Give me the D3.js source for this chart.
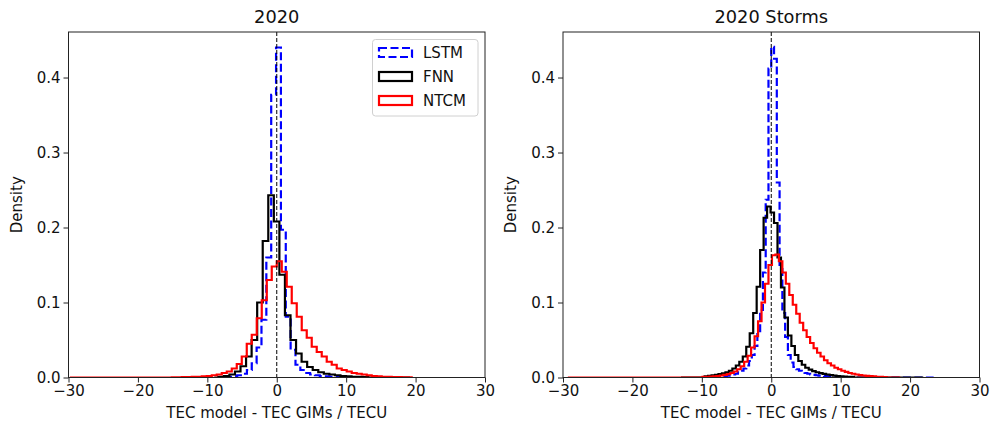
<!DOCTYPE html>
<html>
<head>
<meta charset="utf-8">
<script src="https://cdn.jsdelivr.net/npm/d3@7"></script>
<style>
  body { margin: 0; background: #fff; }
  svg { font-family: "DejaVu Sans", sans-serif; }
</style>
</head>
<body>
<div id="chart"></div>
<script>
// bin layout per series: [first edge, bin width], outline extent: [lo, hi]
// --- 2020 ---
const lstm2020Bins = [-7.1, 0.7]
const lstm2020Extent = [-7.5, 9.5]
const lstm2020 = [0.001, 0.0015, 0.003, 0.005, 0.01, 0.019, 0.04, 0.077, 0.16, 0.377,
    0.44, 0.197, 0.081, 0.037, 0.017, 0.01, 0.006, 0.004, 0.003, 0.002, 0.0015, 0.001, 0.0007, 0.0005]

const fnn2020Bins = [-8.42, 0.8]
const fnn2020Extent = [-9, 19.2]
const fnn2020 = [0.001, 0.002, 0.004, 0.008, 0.015, 0.028, 0.05, 0.1, 0.182, 0.243,
    0.208, 0.137, 0.083, 0.05, 0.032, 0.021, 0.014, 0.01, 0.007, 0.005, 0.004, 0.003,
    0.002, 0.0015, 0.001, 0.0008, 0.0005]

const ntcm2020Bins = [-15.12, 0.72]
const ntcm2020Extent = [-29.8, 19.6]
const ntcm2020 = [0.0002, 0.0003, 0.0004, 0.0005, 0.0008, 0.001, 0.0015, 0.002, 0.003, 0.004,
    0.006, 0.008, 0.012, 0.018, 0.028, 0.045, 0.057, 0.079, 0.103, 0.13, 0.148,
    0.155, 0.141, 0.121, 0.099, 0.081, 0.063, 0.053, 0.041, 0.034, 0.028, 0.021, 0.017,
    0.012, 0.01, 0.008, 0.006, 0.005, 0.004, 0.003, 0.002, 0.0015, 0.001, 0.0008, 0.0006,
    0.0004, 0.0003, 0.0002]

// --- 2020 Storms ---
const lstmStormBins = [-8.0, 0.4]
const lstmStormExtent = [-10, 23.4]
const lstmStorm = [0.001, 0.0012, 0.0015, 0.002, 0.0025, 0.003, 0.004, 0.005, 0.007, 0.009,
    0.012, 0.016, 0.022, 0.03, 0.042, 0.06, 0.09, 0.14, 0.237, 0.412,
    0.441, 0.425, 0.26, 0.15, 0.086, 0.054, 0.03, 0.02, 0.014, 0.011, 0.009, 0.007,
    0.006, 0.005, 0.004, 0.0035, 0.003, 0.0025, 0.002, 0.0018, 0.0015, 0.0012, 0.001, 0.0008]

const fnnStormBins = [-9.6, 0.5]
const fnnStormExtent = [-13, 21.9]
const fnnStorm = [0.0017, 0.0022, 0.0028, 0.0035, 0.0045, 0.0055, 0.007, 0.009, 0.012, 0.016,
    0.021, 0.028, 0.041, 0.059, 0.086, 0.121, 0.17, 0.213, 0.228,
    0.22, 0.206, 0.16, 0.12, 0.08, 0.056, 0.042, 0.03, 0.022, 0.017, 0.013, 0.0105,
    0.0085, 0.007, 0.0058, 0.0048, 0.004, 0.0032, 0.0026, 0.002, 0.0016, 0.0013, 0.001, 0.0008]

const ntcmStormBins = [-9.9, 0.5]
const ntcmStormExtent = [-29.3, 18.6]
const ntcmStorm = [0.0008, 0.001, 0.0012, 0.0015, 0.002, 0.0027, 0.0035, 0.0045, 0.006, 0.008,
    0.011, 0.015, 0.021, 0.029, 0.04, 0.055, 0.075, 0.1, 0.125, 0.15,
    0.163, 0.164, 0.155, 0.14, 0.125, 0.11, 0.097, 0.085, 0.073, 0.063, 0.054, 0.046,
    0.039, 0.033, 0.028, 0.023, 0.019, 0.016, 0.013, 0.011, 0.009, 0.0075, 0.006, 0.005,
    0.004, 0.0033, 0.0027, 0.0022, 0.0018, 0.0014, 0.001, 0.0008, 0.0005]

const xTicks = [-30, -20, -10, 0, 10, 20, 30]
const yTicks = [0, 0.1, 0.2, 0.3, 0.4]
const seriesNames = ["LSTM", "FNN", "NTCM"]
const panelTitles = ["2020", "2020 Storms"]

const width = 999
const height = 425
const plotTop = 32
const plotBottom = 377.5
const panelLefts = [68.5, 563]
const panelWidth = 416.5

const styles = [
    { color: "#0000ff", dash: "8,3.5" },
    { color: "#000000", dash: null },
    { color: "#ff0000", dash: null },
]

const panels = [
    [[lstm2020, lstm2020Bins, lstm2020Extent], [fnn2020, fnn2020Bins, fnn2020Extent], [ntcm2020, ntcm2020Bins, ntcm2020Extent]],
    [[lstmStorm, lstmStormBins, lstmStormExtent], [fnnStorm, fnnStormBins, fnnStormExtent], [ntcmStorm, ntcmStormBins, ntcmStormExtent]],
]

const svg = d3.select("#chart").append("svg")
    .attr("width", width)
    .attr("height", height)

// histtype="step" outline
const stepPoints = (values, bins, extent) => {
    const [start, w] = bins
    const pts = [[extent[0], 0], [start, 0]]
    values.forEach((v, i) => {
        pts.push([start + i * w, v])
        pts.push([start + (i + 1) * w, v])
    })
    const end = start + values.length * w
    pts.push([end, 0])
    pts.push([extent[1], 0])
    return pts
}

panels.forEach((panel, p) => {
    const left = panelLefts[p]
    const xScale = d3.scaleLinear().domain([-30, 30]).range([left, left + panelWidth])
    const yScale = d3.scaleLinear().domain([0, 0.4607]).range([plotBottom, plotTop])

    const g = svg.append("g")
    const clipId = "clip" + p
    g.append("clipPath").attr("id", clipId)
        .append("rect")
        .attr("x", left).attr("y", plotTop)
        .attr("width", panelWidth).attr("height", plotBottom - plotTop)

    const lineGen = d3.line()
        .x(d => xScale(d[0]))
        .y(d => yScale(d[1]))

    const marks = g.append("g").attr("clip-path", `url(#${clipId})`)

    panel.forEach(([values, bins, extent], s) => {
        marks.append("path")
            .attr("d", lineGen(stepPoints(values, bins, extent)))
            .attr("fill", "none")
            .attr("stroke", styles[s].color)
            .attr("stroke-width", 2.2)
            .attr("stroke-linejoin", "miter")
            .attr("stroke-dasharray", styles[s].dash)
    })

    // zero line
    marks.append("line")
        .attr("x1", xScale(0)).attr("x2", xScale(0))
        .attr("y1", plotTop).attr("y2", plotBottom)
        .attr("stroke", "#000")
        .attr("stroke-width", 1)
        .attr("stroke-dasharray", "4,2")

    // axes
    const xAxis = g.append("g")
        .attr("transform", `translate(0,${plotBottom})`)
        .call(d3.axisBottom(xScale).tickValues(xTicks).tickFormat(d3.format("d")).tickSize(5).tickPadding(3))
    const yAxis = g.append("g")
        .attr("transform", `translate(${left},0)`)
        .call(d3.axisLeft(yScale).tickValues(yTicks).tickFormat(d3.format(".1f")).tickSize(5).tickPadding(3))

    ;[xAxis, yAxis].forEach(ax => {
        ax.select(".domain").remove()
        ax.selectAll("line").attr("stroke", "#222")
        ax.selectAll("text").attr("font-size", 15).attr("fill", "#111")
            .style("font-family", "DejaVu Sans, sans-serif")
    })

    // frame
    g.append("rect")
        .attr("x", left).attr("y", plotTop)
        .attr("width", panelWidth).attr("height", plotBottom - plotTop)
        .attr("fill", "none")
        .attr("stroke", "#222")
        .attr("stroke-width", 1)

    g.append("text")
        .attr("x", left + panelWidth / 2)
        .attr("y", 23)
        .attr("text-anchor", "middle")
        .attr("font-size", 17.8)
        .attr("fill", "#111")
        .text(panelTitles[p])

    g.append("text")
        .attr("x", left + panelWidth / 2)
        .attr("y", 418)
        .attr("text-anchor", "middle")
        .attr("font-size", 15)
        .attr("fill", "#111")
        .text("TEC model - TEC GIMs / TECU")

    g.append("text")
        .attr("transform", `translate(${left - 47},${(plotTop + plotBottom) / 2}) rotate(-90)`)
        .attr("text-anchor", "middle")
        .attr("font-size", 15)
        .attr("fill", "#111")
        .text("Density")
})

// legend (left panel only)
const legend = svg.append("g")
legend.append("rect")
    .attr("x", 372.5).attr("y", 39.5)
    .attr("width", 105.5).attr("height", 76.5)
    .attr("rx", 3)
    .attr("fill", "#fff").attr("fill-opacity", 0.8)
    .attr("stroke", "#d0d0d0")

seriesNames.forEach((name, i) => {
    const cy = 52.5 + i * 24
    legend.append("rect")
        .attr("x", 379).attr("y", cy - 4.5)
        .attr("width", 33).attr("height", 9)
        .attr("fill", "none")
        .attr("stroke", styles[i].color)
        .attr("stroke-width", 2.2)
        .attr("stroke-dasharray", styles[i].dash)
    legend.append("text")
        .attr("x", 423).attr("y", cy + 5.5)
        .attr("font-size", 15)
        .attr("fill", "#111")
        .text(name)
})
</script>
</body>
</html>
